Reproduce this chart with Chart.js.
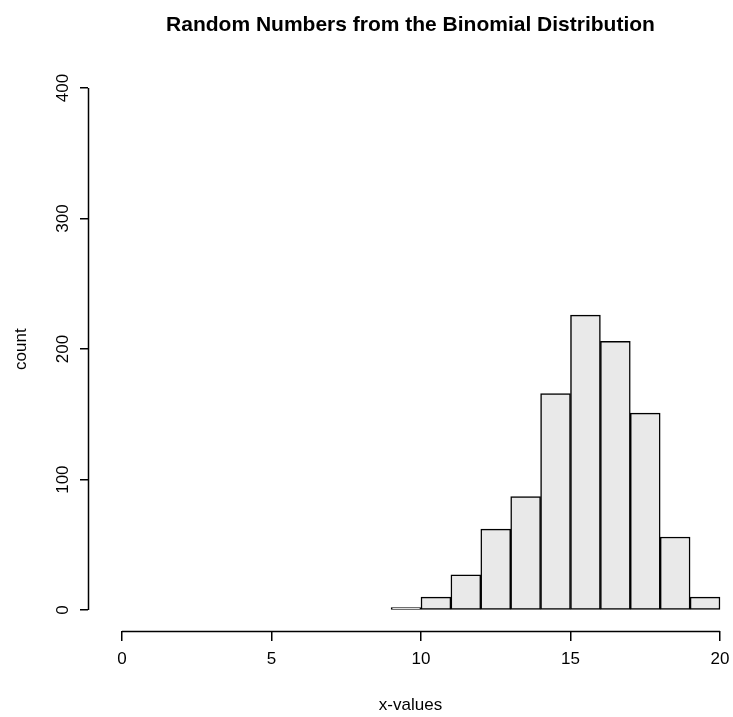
<!DOCTYPE html>
<html>
<head>
<meta charset="utf-8">
<script src="https://cdn.jsdelivr.net/npm/chart.js@4"></script>
<style>
  html, body { margin: 0; padding: 0; background: #fff; }
  #wrap { width: 733px; height: 717px; }
</style>
</head>
<body>
<div id="wrap"><canvas id="hist"></canvas></div>
<script>
// histogram bins (left edges, width 1) and counts
const binStarts = [9, 10, 11, 12, 13, 14, 15, 16, 17, 18, 19];
const counts = [2, 10, 27, 62, 87, 166, 226, 206, 151, 56, 10];
const xTicks = [0, 5, 10, 15, 20];
const yTicks = [0, 100, 200, 300, 400];

const fontFam = '"Liberation Sans", Arial, Helvetica, sans-serif';

// R style axes: line only between first and last tick
const rAxes = {
	id: 'rAxes',
	afterDraw(chart) {
		const ctx = chart.ctx;
		const x = chart.scales.x;
		const y = chart.scales.y;
		ctx.save();
		ctx.strokeStyle = '#000';
		ctx.lineWidth = 1.5;
		ctx.beginPath();
		const xa = chart.chartArea.bottom + 0.5;
		ctx.moveTo(x.getPixelForValue(xTicks[0]), xa);
		ctx.lineTo(x.getPixelForValue(xTicks[xTicks.length - 1]), xa);
		const ya = chart.chartArea.left + 0.5;
		ctx.moveTo(ya, y.getPixelForValue(yTicks[0]));
		ctx.lineTo(ya, y.getPixelForValue(yTicks[yTicks.length - 1]));
		ctx.stroke();
		ctx.restore();
	},
};

const data = {
	datasets: [
		{
			label: 'count',
			data: binStarts.map((b, i) => ({ x: b + 0.5, y: counts[i] })),
			backgroundColor: 'rgb(233, 233, 233)',
			borderColor: '#000',
			borderWidth: 1.5,
			borderSkipped: false,
			barPercentage: 1,
			categoryPercentage: 1,
		},
	],
};

const config = {
	type: 'bar',
	data: data,
	plugins: [rAxes],
	options: {
		responsive: true,
		maintainAspectRatio: false,
		animation: false,
		plugins: {
			legend: { display: false },
			tooltip: { enabled: false },
			title: {
				display: true,
				fullSize: false,
				text: 'Random Numbers from the Binomial Distribution',
				color: '#000',
				font: { family: fontFam, size: 21, weight: 'bold' },
				padding: { top: 13, bottom: 29 },
			},
		},
		scales: {
			x: {
				type: 'linear',
				offset: false,
				min: -1.137,
				max: 20.435,
				afterBuildTicks: (s) => { s.ticks = xTicks.map((v) => ({ value: v })); },
				afterFit: (s) => { s.height = 86; s.paddingLeft = 0; s.paddingRight = 0; },
				border: { display: false },
				grid: { offset: false, drawOnChartArea: false, drawTicks: true, tickLength: 10, color: '#000', lineWidth: 1.5 },
				ticks: { color: '#000', font: { family: fontFam, size: 17 }, padding: 8, maxRotation: 0 },
				title: {
					display: true,
					text: 'x-values',
					color: '#000',
					font: { family: fontFam, size: 17 },
					padding: { top: 0, bottom: 1 },
				},
			},
			y: {
				min: -16,
				max: 416,
				afterBuildTicks: (s) => { s.ticks = yTicks.map((v) => ({ value: v })); },
				afterFit: (s) => { s.width = 88; },
				border: { display: false },
				grid: { drawOnChartArea: false, drawTicks: true, tickLength: 8, color: '#000', lineWidth: 1.5 },
				ticks: { color: '#000', font: { family: fontFam, size: 17 }, padding: 3, minRotation: 90, maxRotation: 90, crossAlign: 'center' },
				title: {
					display: true,
					text: 'count',
					color: '#000',
					font: { family: fontFam, size: 17 },
					padding: { top: 11, bottom: 0 },
				},
			},
		},
	},
};

const hist = new Chart(document.getElementById('hist'), config);
</script>
</body>
</html>
